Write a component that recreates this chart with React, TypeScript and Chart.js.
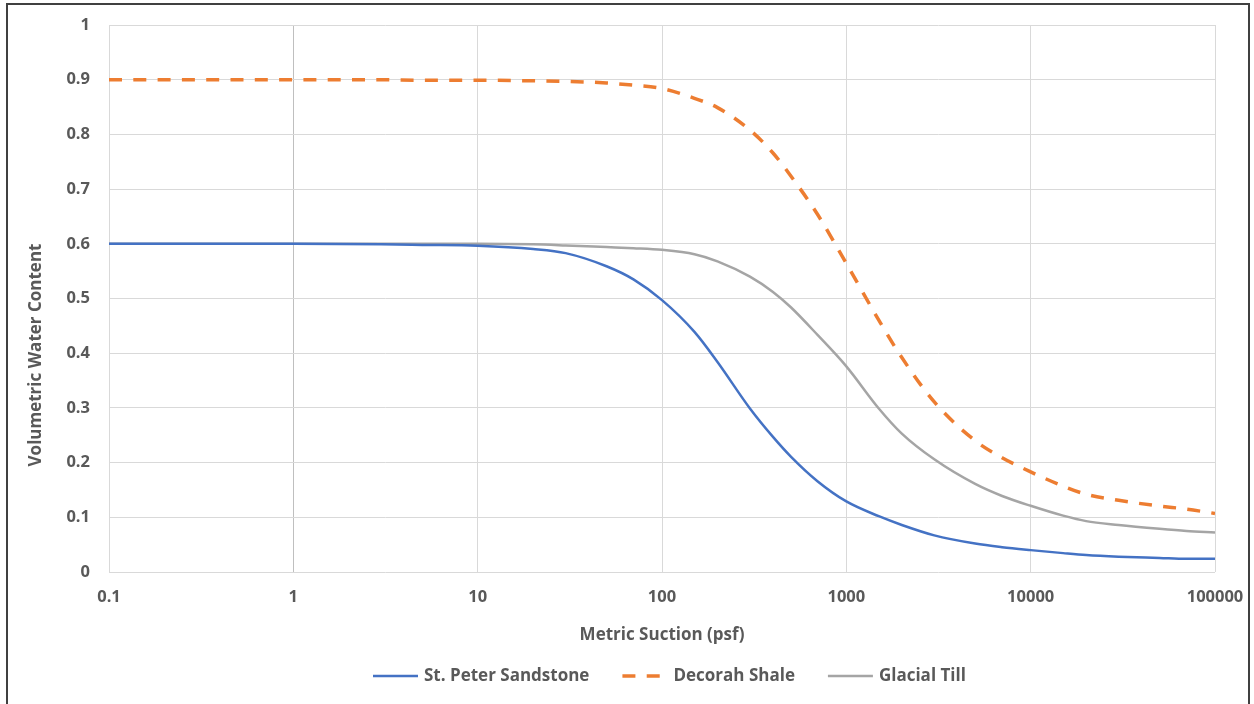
import React, { useEffect, useRef } from "react";
import { Chart, registerables } from "chart.js";

Chart.register(...registerables);

// ---- Data ----
const suction = [
  0.1, 0.3, 1, 3, 5, 10, 20, 30, 50, 70, 100, 150, 200, 300, 400, 500, 700,
  1000, 1500, 2000, 3000, 5000, 7000, 10000, 15000, 20000, 30000, 50000,
  70000, 100000,
];
const stPeterSandstone = [
  0.6, 0.6, 0.6, 0.599, 0.598, 0.5965, 0.5905, 0.583, 0.559, 0.535, 0.497,
  0.439, 0.384, 0.299, 0.247, 0.211, 0.1655, 0.129, 0.102, 0.086, 0.067,
  0.052, 0.0454, 0.04, 0.0345, 0.031, 0.028, 0.0256, 0.024, 0.024,
];
const decorahShale = [
  0.9, 0.9, 0.9, 0.9, 0.899, 0.899, 0.898, 0.897, 0.894, 0.89, 0.884, 0.866,
  0.849, 0.808, 0.766, 0.724, 0.653, 0.564, 0.4605, 0.392, 0.311, 0.24,
  0.209, 0.183, 0.157, 0.142, 0.131, 0.1206, 0.115, 0.107,
];
const glacialTill = [
  0.6, 0.6, 0.6, 0.6, 0.6, 0.6, 0.599, 0.597, 0.594, 0.592, 0.589, 0.581,
  0.568, 0.54, 0.512, 0.484, 0.433, 0.376, 0.299, 0.253, 0.206, 0.161, 0.139,
  0.121, 0.103, 0.093, 0.086, 0.079, 0.075, 0.072,
];
const seriesNames = ["St. Peter Sandstone", "Decorah Shale", "Glacial Till"];
const xTickValues = [0.1, 1, 10, 100, 1000, 10000, 100000];
const xTickLabels = ["0.1", "1", "10", "100", "1000", "10000", "100000"];
const yTickValues = [0, 0.1, 0.2, 0.3, 0.4, 0.5, 0.6, 0.7, 0.8, 0.9, 1];
const yTickLabels = ["0", "0.1", "0.2", "0.3", "0.4", "0.5", "0.6", "0.7", "0.8", "0.9", "1"];
const xTitle = "Metric Suction (psf)";
const yTitle = "Volumetric Water Content";

export default function App() {
  const ref = useRef<HTMLCanvasElement>(null);

  useEffect(() => {
    document.body.style.margin = "0";
    const canvas = ref.current;
    if (!canvas) return;
    const FAMILY = "'Open Sans', 'DejaVu Sans', sans-serif";
    const TEXT = "#595959";
    const tickFont = { family: FAMILY, size: 16.5, weight: "bold" as const };
    const titleFont = { family: FAMILY, size: 17, weight: "bold" as const };

    const toPoints = (vals: number[]) => suction.map((x, i) => ({ x, y: vals[i] }));

    const datasets: any[] = [
      {
        label: seriesNames[0],
        data: toPoints(stPeterSandstone),
        borderColor: "#4472C4",
        backgroundColor: "#4472C4",
        borderWidth: 2.5,
      },
      {
        label: seriesNames[1],
        data: toPoints(decorahShale),
        borderColor: "#ED7D31",
        backgroundColor: "#ED7D31",
        borderWidth: 3.5,
        borderDash: [13, 11.3],
      },
      {
        label: seriesNames[2],
        data: toPoints(glacialTill),
        borderColor: "#A5A5A5",
        backgroundColor: "#A5A5A5",
        borderWidth: 2.5,
      },
    ];

    const decor = {
      id: "decor",
      beforeDraw(chart: any) {
        const c = chart.ctx;
        c.save();
        c.fillStyle = "#ffffff";
        c.fillRect(0, 0, chart.width, chart.height);
        c.restore();
      },
      afterDraw(chart: any) {
        const c = chart.ctx;
        c.save();
        // outer frame
        c.strokeStyle = "#404040";
        c.lineWidth = 2;
        c.strokeRect(7, 4, 1242, 1000);
        // y title
        c.fillStyle = TEXT;
        c.font = `bold 17px ${FAMILY}`;
        c.textAlign = "center";
        c.textBaseline = "middle";
        c.translate(36, 355);
        c.rotate(-Math.PI / 2);
        c.fillText(yTitle, 0, 0);
        c.restore();

        // legend
        c.save();
        c.font = `bold 17px ${FAMILY}`;
        c.textBaseline = "middle";
        c.textAlign = "left";
        const y = 676;
        let x = 373;
        chart.data.datasets.forEach((ds: any) => {
          c.beginPath();
          c.strokeStyle = ds.borderColor;
          c.lineWidth = ds.borderWidth;
          c.setLineDash(ds.borderDash || []);
          c.moveTo(x, y);
          c.lineTo(x + 45, y);
          c.stroke();
          c.setLineDash([]);
          x += 51;
          c.fillStyle = TEXT;
          c.fillText(ds.label, x, y);
          x += c.measureText(ds.label).width + 33;
        });
        c.restore();
      },
    };

    const chart = new Chart(canvas, {
      type: "line",
      data: { datasets },
      options: {
        responsive: false,
        animation: false,
        devicePixelRatio: 1,
        layout: { padding: { left: 0, top: 25, right: 39, bottom: 0 } },
        elements: {
          point: { radius: 0, hoverRadius: 0 },
          line: { cubicInterpolationMode: "monotone", fill: false },
        },
        plugins: { legend: { display: false }, tooltip: { enabled: false } },
        scales: {
          x: {
            type: "logarithmic",
            position: "bottom",
            min: 0.1,
            max: 100000,
            afterBuildTicks: (s: any) => {
              s.ticks = xTickValues.map((v) => ({ value: v }));
            },
            afterFit: (s: any) => {
              s.height = 132;
              s.paddingLeft = 0;
              s.paddingRight = 0;
            },
            grid: {
              color: (ctx: any) =>
                ctx.tick && ctx.tick.value === 1 ? "#bfbfbf" : "#d9d9d9",
              lineWidth: 1,
              drawTicks: false,
            },
            border: { display: false },
            ticks: {
              padding: 15,
              color: TEXT,
              font: tickFont,
              autoSkip: false,
              maxRotation: 0,
              callback: (_v: any, i: number) => xTickLabels[i],
            },
            title: {
              display: true,
              text: xTitle,
              color: TEXT,
              font: titleFont,
              padding: { top: 0, bottom: 59 },
            },
          },
          y: {
            type: "linear",
            min: 0,
            max: 1,
            afterBuildTicks: (s: any) => {
              s.ticks = yTickValues.map((v) => ({ value: v }));
            },
            afterFit: (s: any) => {
              s.width = 109;
              s.paddingTop = 0;
              s.paddingBottom = 0;
            },
            grid: { color: "#d9d9d9", lineWidth: 1, drawTicks: false },
            border: { display: false },
            ticks: {
              padding: 19,
              color: TEXT,
              font: tickFont,
              callback: (_v: any, i: number) => yTickLabels[i],
            },
          },
        },
      } as any,
      plugins: [decor],
    });

    return () => chart.destroy();
  }, []);

  return (
    <canvas
      ref={ref}
      width={1254}
      height={704}
      style={{ display: "block", width: 1254, height: 704 }}
    />
  );
}
